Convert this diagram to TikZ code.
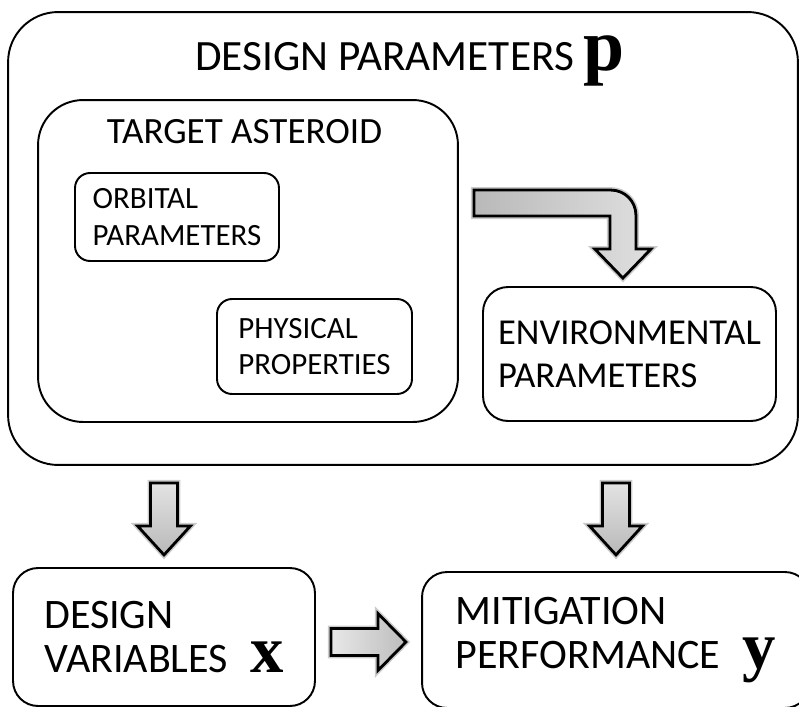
\documentclass[tikz,border=0pt]{standalone}
\usepackage{fontspec}
\setmainfont{Carlito}
\newfontfamily\vecfont{Liberation Serif}
\usetikzlibrary{calc}
\tikzset{
  box/.style={draw, line width=1.1pt, align=left},
  blockarrow/.style={draw, line width=1.6pt, line join=miter,
    preaction={draw=black!45, line width=3.4pt, opacity=0.45}},
}
\newcommand{\boldvec}[2]{{\vecfont\bfseries\fontsize{#1}{#1}\selectfont #2}}

\begin{document}
\begin{tikzpicture}[x=0.02cm, y=-0.02cm]
\useasboundingbox (0,0) rectangle (799,707);
% design parameters
\node[box, rounded corners=1cm, minimum width=15.8cm, minimum height=9.06cm] (dp) at (403,238.5) {};
\node[anchor=base, font=\fontsize{24.6pt}{28pt}\selectfont] (dptitle) at (410,70) {DESIGN PARAMETERS \boldvec{42pt}{p}};
% target asteroid
\node[box, rounded corners=0.9cm, minimum width=8.4cm, minimum height=6.44cm] (ta) at (248,261) {};
\node[anchor=base, font=\fontsize{21.1pt}{25pt}\selectfont] (tatitle) at (244.5,143) {TARGET ASTEROID};
\node[box, rounded corners=0.3cm, minimum width=4.08cm, minimum height=1.76cm, font=\fontsize{17.6pt}{21pt}\selectfont] (op) at (177,217) {ORBITAL\\PARAMETERS};
\node[box, rounded corners=0.3cm, minimum width=3.9cm, minimum height=1.9cm, font=\fontsize{17.6pt}{20.6pt}\selectfont] (pp) at (314.5,346.5) {PHYSICAL\\PROPERTIES};
% environment
\node[box, rounded corners=0.5cm, minimum width=5.86cm, minimum height=2.68cm, font=\fontsize{20.8pt}{24.5pt}\selectfont] (ep) at (629.5,354) {ENVIRONMENTAL\\PARAMETERS};
% bottom row
\node[box, rounded corners=0.5cm, minimum width=6.04cm, minimum height=2.76cm, font=\fontsize{23.9pt}{25.3pt}\selectfont] (dv) at (164,637) {DESIGN\\VARIABLES\hspace{0.45cm}\boldvec{38pt}{x}};
\node[box, rounded corners=0.5cm, minimum width=7.76cm, minimum height=2.72cm, font=\fontsize{23.9pt}{25.3pt}\selectfont] (mp) at (616,640) {MITIGATION\\PERFORMANCE\hspace{0.45cm}\boldvec{38pt}{y}};
% block arrows
\draw[blockarrow, left color=gray!55, right color=gray!25] ($(ta.north east)+(15,91)$) -- ++(137,0)
  arc[start angle=-90, end angle=0, radius=25] -- ++(0,34) -- ++(15,0) -- ++(-28,29) -- ++(-28,-29)
  -- ++(15,0) -- ++(0,-33) -- ++(-136,0) -- cycle;
\foreach \b in {dv,mp}
\draw[blockarrow, top color=gray!22, bottom color=gray!55] ($(dp.south -| \b.north)+(-13.5,17)$) -- ++(27,0)
  -- ++(0,43) -- ++(13,0) -- ++(-26.5,29) -- ++(-26.5,-29) -- ++(13,0) -- cycle;
\draw[blockarrow, left color=gray!18, right color=gray!52] ($(dv.east)+(15,-8.5)$) -- ++(47,0) -- ++(0,-15)
  -- ++(28,28.5) -- ++(-28,28.5) -- ++(0,-15) -- ++(-47,0) -- cycle;
\end{tikzpicture}
\end{document}
